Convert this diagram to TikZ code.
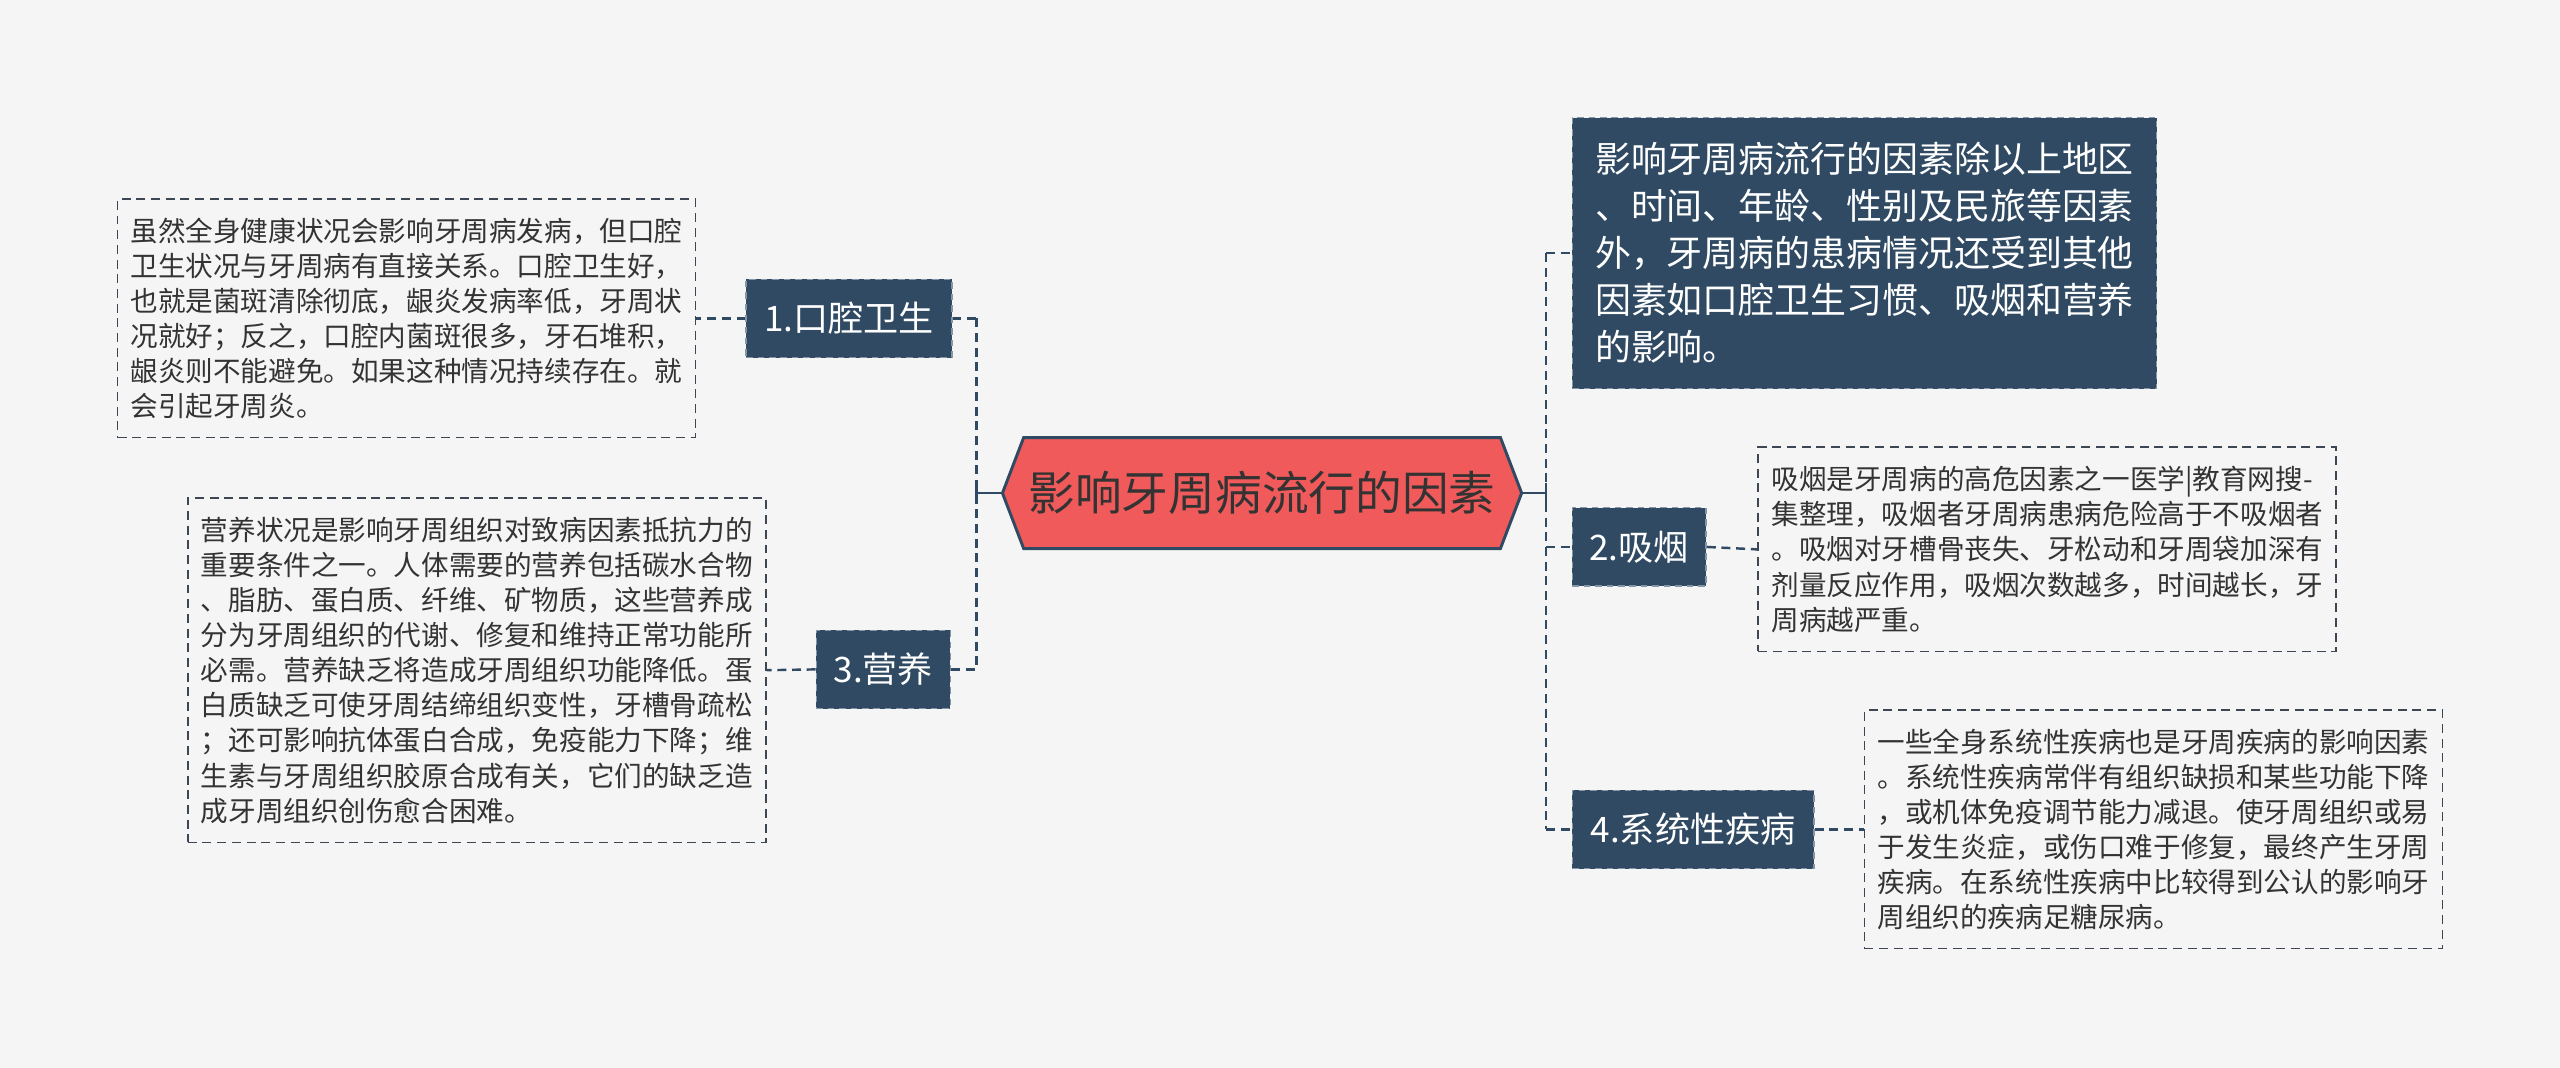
\documentclass[tikz,border=0pt]{standalone}
\usepackage{fontspec}
\setmainfont{Noto Sans CJK SC}
\definecolor{bg}{HTML}{F5F5F5}
\definecolor{dk}{HTML}{2F4A62}
\definecolor{dkb}{HTML}{8796A6}
\definecolor{hexred}{HTML}{F05A5A}
\definecolor{txt}{HTML}{333333}
\definecolor{tb}{HTML}{3C4753}
\begin{document}
\begin{tikzpicture}[x=1pt,y=-1pt,
  conn/.style={draw=dk, line width=1.5pt, dash pattern=on 5.5pt off 3.5pt},
  solidconn/.style={draw=dk, line width=1.5pt},
  darkbox/.style={fill=dk, draw=dkb, line width=0.8pt, dash pattern=on 4pt off 3pt, text=white,
    inner sep=0pt, align=left, font=\fontsize{21.5}{26}\selectfont},
  textbox/.style={draw=tb, line width=1.1pt, dash pattern=on 5.5pt off 3.5pt, text=txt,
    inner sep=0pt, align=left, font=\fontsize{16.9}{21.5}\selectfont},
  centertext/.style={inner sep=0pt, text=txt, font=\fontsize{28.6}{32}\selectfont,
    minimum width=318pt, minimum height=68pt}
]
\fill[bg] (0,0) rectangle (1568,654);
\useasboundingbox (0,0) rectangle (1568,654);

% central hexagon
\coordinate (cc) at (773,302);
\draw[fill=hexred, draw=dk, line width=1.8pt]
  ([shift={(-159,0)}]cc) -- ([shift={(-146,-34)}]cc) -- ([shift={(146,-34)}]cc)
  -- ([shift={(159,0)}]cc) -- ([shift={(146,34)}]cc) -- ([shift={(-146,34)}]cc) -- cycle;
\node[centertext] (c) at (cc) {影响牙周病流行的因素};

% left side
\node[darkbox, minimum width=126pt, minimum height=48pt, align=center] (n1) at (520,195) {1.口腔卫生};
\node[darkbox, minimum width=82pt, minimum height=48pt, align=center] (n3) at (541,410) {3.营养};
\node[textbox, minimum width=354pt, minimum height=146pt] (b1) at (249,195) {%
虽然全身健康状况会影响牙周病发病，但口腔\\
卫生状况与牙周病有直接关系。口腔卫生好，\\
也就是菌斑清除彻底，龈炎发病率低，牙周状\\
况就好；反之，口腔内菌斑很多，牙石堆积，\\
龈炎则不能避免。如果这种情况持续存在。就\\
会引起牙周炎。};
\node[textbox, minimum width=354pt, minimum height=211pt] (b3) at (292,410.5) {%
营养状况是影响牙周组织对致病因素抵抗力的\\
重要条件之一。人体需要的营养包括碳水合物\\
、脂肪、蛋白质、纤维、矿物质，这些营养成\\
分为牙周组织的代谢、修复和维持正常功能所\\
必需。营养缺乏将造成牙周组织功能降低。蛋\\
白质缺乏可使牙周结缔组织变性，牙槽骨疏松\\
；还可影响抗体蛋白合成，免疫能力下降；维\\
生素与牙周组织胶原合成有关，它们的缺乏造\\
成牙周组织创伤愈合困难。};

% right side
\node[darkbox, minimum width=358pt, minimum height=166pt, font=\fontsize{22}{28.8}\selectfont] (top) at (1142,155) {%
影响牙周病流行的因素除以上地区\\
、时间、年龄、性别及民旅等因素\\
外，牙周病的患病情况还受到其他\\
因素如口腔卫生习惯、吸烟和营养\\
的影响。};
\node[darkbox, minimum width=82pt, minimum height=48pt, align=center] (n2) at (1004,335) {2.吸烟};
\node[darkbox, minimum width=148pt, minimum height=48pt, align=center] (n4) at (1037,508) {4.系统性疾病};
\node[textbox, minimum width=354pt, minimum height=125pt] (b2) at (1254,336.5) {%
吸烟是牙周病的高危因素之一医学|教育网搜-\\
集整理，吸烟者牙周病患病危险高于不吸烟者\\
。吸烟对牙槽骨丧失、牙松动和牙周袋加深有\\
剂量反应作用，吸烟次数越多，时间越长，牙\\
周病越严重。};
\node[textbox, minimum width=354pt, minimum height=146pt] (b4) at (1319,508) {%
一些全身系统性疾病也是牙周疾病的影响因素\\
。系统性疾病常伴有组织缺损和某些功能下降\\
，或机体免疫调节能力减退。使牙周组织或易\\
于发生炎症，或伤口难于修复，最终产生牙周\\
疾病。在系统性疾病中比较得到公认的影响牙\\
周组织的疾病足糖尿病。};

% connectors left
\coordinate (lj) at (598,302);
\coordinate (lt) at (598,195);
\coordinate (lb) at (598,410);
\draw[solidconn] (c.west) -- (lj);
\draw[solidconn] ([yshift=-6]lj) -- ([yshift=6]lj);
\draw[conn] (lt) -- (lb);
\draw[conn] (n1.east) -- (lt);
\draw[conn] (n3.east) -- (lb);
\draw[conn] (n1.west) -- (b1.east);
\draw[conn] (n3.west) -- (b3.east);

% connectors right
\coordinate (rj) at (947,302);
\coordinate (rt) at (947,155);
\coordinate (rb) at (947,508);
\coordinate (rm) at (947,335);
\draw[solidconn] (c.east) -- (rj);
\draw[solidconn] ([yshift=-6]rj) -- ([yshift=6]rj);
\draw[conn] (rt) -- (rb);
\draw[conn] (rt) -- (top.west);
\draw[conn] (rm) -- (n2.west);
\draw[conn] (rb) -- (n4.west);
\draw[conn] (n2.east) -- (b2.west);
\draw[conn] (n4.east) -- (b4.west);
\end{tikzpicture}
\end{document}
